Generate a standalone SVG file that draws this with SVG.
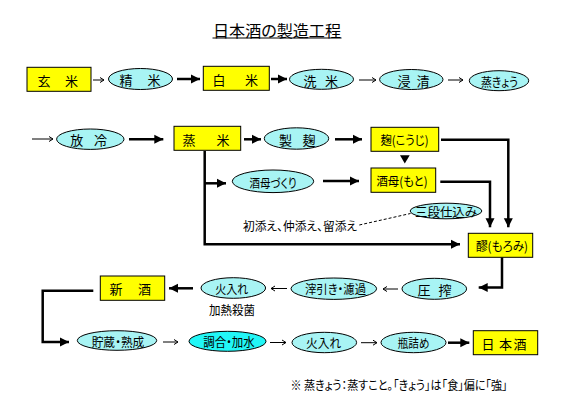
<svg xmlns="http://www.w3.org/2000/svg" width="562" height="414" viewBox="0 0 562 414">
<style>
text{font-family:"Noto Sans CJK JP","Noto Sans CJK SC",sans-serif;font-size:13px;fill:#000;text-anchor:middle;dominant-baseline:central;font-feature-settings:"palt" 1}
.sm{font-size:12.5px}
.box{fill:#ffff00;stroke:#000;stroke-width:1}
.ell{fill:#a8f4f4;stroke:#000;stroke-width:1}
.ell2{fill:#22f6f6;stroke:#000;stroke-width:1}
.thin{fill:none;stroke:#000;stroke-width:1;marker-end:url(#ah)}
.thick{fill:none;stroke:#000;stroke-width:2.5;marker-end:url(#AH)}
</style>
<defs>
<marker id="ah" markerUnits="userSpaceOnUse" markerWidth="8" markerHeight="8" refX="6" refY="4" orient="auto"><path d="M2,1.5 L6,4 L2,6.5" fill="none" stroke="#000" stroke-width="1"/></marker>
<marker id="AH" markerUnits="userSpaceOnUse" markerWidth="12" markerHeight="12" refX="10" refY="6" orient="auto"><path d="M1,1.5 L10,6 L1,10.5 Z" fill="#000"/></marker>
</defs>
<rect width="562" height="414" fill="#fff"/>
<g id="title"><text x="277" y="30" style="font-size:16px" textLength="128" lengthAdjust="spacingAndGlyphs">日本酒の製造工程</text><line x1="212.5" y1="38" x2="341.5" y2="38" stroke="#000" stroke-width="1"/></g>

<g id="connectors">
<line class="thin" x1="93" y1="80" x2="104" y2="80"/>
<line class="thick" x1="177" y1="79" x2="200" y2="79"/>
<line class="thick" x1="271" y1="79" x2="287" y2="79"/>
<line class="thin" x1="359" y1="80" x2="376" y2="80"/>
<line class="thin" x1="448" y1="80" x2="463" y2="80"/>
<line class="thin" x1="32" y1="139" x2="53" y2="139"/>
<line class="thick" x1="129" y1="139.3" x2="163.3" y2="139.3"/>
<line class="thick" x1="244" y1="139.3" x2="261" y2="139.3"/>
<line class="thick" x1="335" y1="139.3" x2="362" y2="139.3"/>
<path d="M400,155.3 L409.7,155.3 L404.8,163.5 Z" fill="#000"/>
<line class="thick" x1="204.7" y1="183.3" x2="226" y2="183.3"/>
<line class="thick" x1="323" y1="181" x2="359" y2="181"/>
<path class="thick" d="M204.7,151 L204.7,244.3 L460,244.3"/>
<path class="thick" d="M441,139.7 L508.3,139.7 L508.3,227.3"/>
<path class="thick" d="M440.3,181.7 L490,181.7 L490,227.3"/>
<line x1="359.3" y1="225" x2="410.5" y2="213.5" stroke="#000" stroke-width="1" stroke-dasharray="3,2"/>
<path class="thick" d="M502,257.3 L502,287.5 L478.7,287.5"/>
<line class="thin" x1="398" y1="289" x2="383" y2="289"/>
<line class="thin" x1="287" y1="288.5" x2="271" y2="288.5"/>
<line class="thick" x1="193" y1="288.3" x2="169" y2="288.3"/>
<path class="thick" d="M93.3,290.7 L42.7,290.7 L42.7,342 L69,342"/>
<line class="thin" x1="163" y1="342" x2="178" y2="342"/>
<line class="thin" x1="270" y1="342.5" x2="286" y2="342.5"/>
<line class="thin" x1="361" y1="342.7" x2="377" y2="342.7"/>
<line class="thick" x1="448" y1="342.7" x2="469.3" y2="342.7"/>
</g>

<g id="genmai"><rect class="box" x="27" y="67.3" width="64" height="24"/><text x="44 71.5" y="80">玄米</text></g>
<g id="seimai"><ellipse class="ell" cx="140.5" cy="79" rx="32" ry="10.5"/><text x="126 154" y="79.5">精米</text></g>
<g id="hakumai"><rect class="box" x="203.3" y="66.3" width="66" height="24"/><text x="219 251.5" y="79">白米</text></g>
<g id="senmai"><ellipse class="ell" cx="321.5" cy="79.3" rx="32" ry="10"/><text x="310 331.5" y="80">洗米</text></g>
<g id="shinseki"><ellipse class="ell" cx="411.3" cy="79.5" rx="31.7" ry="10"/><text x="404 423" y="80">浸清</text></g>
<g id="jokyo"><ellipse class="ell" cx="499" cy="80.7" rx="29.7" ry="10"/><text class="sm" x="499.5" y="81" textLength="37" lengthAdjust="spacingAndGlyphs">蒸きょう</text></g>

<g id="horei"><ellipse class="ell" cx="90.3" cy="139.2" rx="33.7" ry="10.2"/><text x="76.7 100.5" y="139.5">放冷</text></g>
<g id="mushimai"><rect class="box" x="174" y="126.3" width="66.7" height="24"/><text x="189 223" y="139">蒸米</text></g>
<g id="seikiku"><ellipse class="ell" cx="296.5" cy="138.5" rx="32.2" ry="10.7"/><text x="285.5 309" y="139">製麹</text></g>
<g id="koji"><rect class="box" x="371" y="127.3" width="67.7" height="24"/><text class="sm" x="404.5" y="139.5" textLength="48" lengthAdjust="spacingAndGlyphs">麹(こうじ)</text></g>
<g id="shuboduk"><ellipse class="ell" cx="273" cy="181.3" rx="40.7" ry="11.3"/><text class="sm" x="273" y="182" textLength="47" lengthAdjust="spacingAndGlyphs">酒母づくり</text></g>
<g id="shubo"><rect class="box" x="371" y="168" width="64.7" height="24.3"/><text class="sm" x="402" y="180.5" textLength="51" lengthAdjust="spacingAndGlyphs">酒母(もと)</text></g>
<g id="sandan"><ellipse class="ell" cx="446" cy="211" rx="35.8" ry="7.8"/><text class="sm" x="446" y="211" textLength="62" lengthAdjust="spacingAndGlyphs">三段仕込み</text></g>
<g id="soe"><text class="sm" x="243" y="225" style="text-anchor:start" textLength="114" lengthAdjust="spacingAndGlyphs">初添え、仲添え、留添え</text></g>
<g id="moromi"><rect class="box" x="468.3" y="233.3" width="64.4" height="24"/><text class="sm" x="502" y="245.5" textLength="52" lengthAdjust="spacingAndGlyphs">醪(もろみ)</text></g>

<g id="assaku"><ellipse class="ell" cx="434.3" cy="288.8" rx="32.3" ry="10.5"/><text x="424 445" y="289">圧搾</text></g>
<g id="orihiki"><ellipse class="ell" cx="333.8" cy="288.7" rx="42.8" ry="10.7"/><text class="sm" x="335.5" y="288.5" textLength="61" lengthAdjust="spacingAndGlyphs">滓引き・濾過</text></g>
<g id="hiire1"><ellipse class="ell" cx="233.3" cy="288" rx="32.3" ry="10.3"/><text class="sm" x="231.7" y="288" textLength="33" lengthAdjust="spacingAndGlyphs">火入れ</text></g>
<g id="kanetsu"><text class="sm" x="232" y="309.5" textLength="46" lengthAdjust="spacingAndGlyphs">加熱殺菌</text></g>
<g id="shinshu"><rect class="box" x="100.3" y="276" width="64.4" height="24.3"/><text x="116 144.5" y="288.5">新酒</text></g>

<g id="chozo"><ellipse class="ell" cx="117" cy="340.5" rx="39.7" ry="9.8"/><text class="sm" x="118" y="341" textLength="52.6" lengthAdjust="spacingAndGlyphs">貯蔵・熟成</text></g>
<g id="chogo"><ellipse class="ell2" cx="227.5" cy="341.3" rx="38.5" ry="10"/><text class="sm" x="229" y="341.5" textLength="51.7" lengthAdjust="spacingAndGlyphs">調合・加水</text></g>
<g id="hiire2"><ellipse class="ell" cx="324.3" cy="342.5" rx="32.3" ry="10.2"/><text class="sm" x="323.5" y="342.5" textLength="35" lengthAdjust="spacingAndGlyphs">火入れ</text></g>
<g id="binzume"><ellipse class="ell" cx="413.5" cy="342.5" rx="32.5" ry="10.2"/><text class="sm" x="413.5" y="342.5" textLength="31.6" lengthAdjust="spacingAndGlyphs">瓶詰め</text></g>
<g id="nihonshu"><rect class="box" x="473.3" y="330.7" width="64.4" height="24"/><text x="488 505.5 520" y="343">日本酒</text></g>

<g id="note"><text class="sm" x="399" y="384" textLength="217" lengthAdjust="spacingAndGlyphs">※ 蒸きょう：蒸すこと。「きょう」は「食」偏に「強」</text></g>
</svg>
